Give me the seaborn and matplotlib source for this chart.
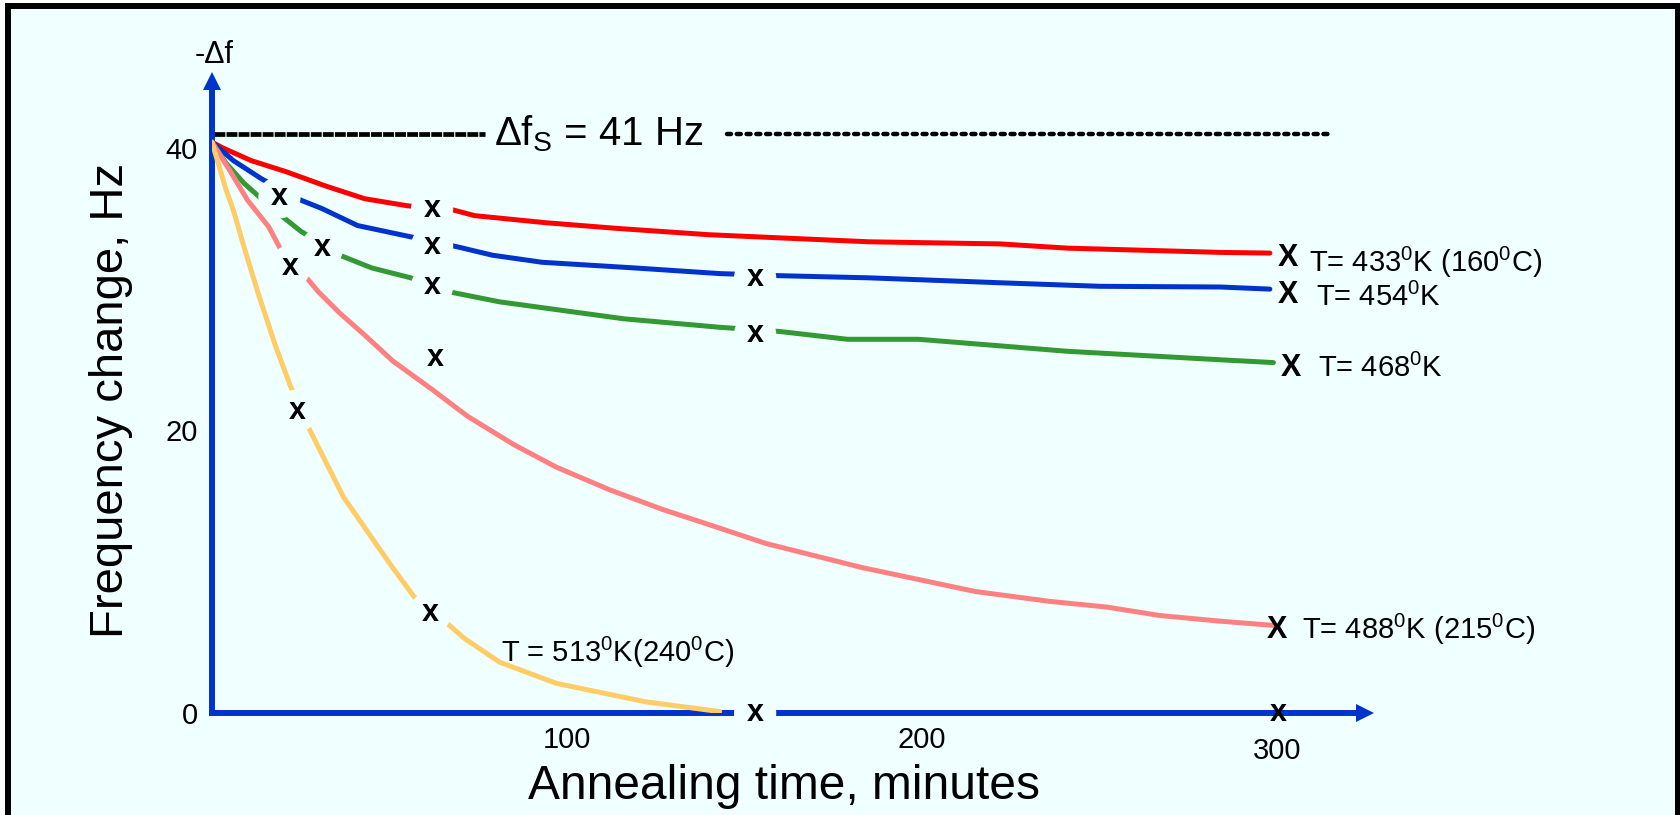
import matplotlib
matplotlib.use("Agg")
import matplotlib.pyplot as plt
import pandas as pd
import seaborn as sns
from matplotlib.patches import Rectangle

# annealing time [min] vs -delta f [Hz]
red_t = [0, 3, 11, 21, 32, 43, 55, 68, 74, 94, 114, 140, 185, 222, 241, 284, 298]
red_v = [40.4, 40.0, 39.1, 38.3, 37.3, 36.4, 35.9, 35.6, 35.2, 34.7, 34.3, 33.85, 33.35, 33.2, 32.9, 32.6, 32.55]

blue_t = [0, 6, 14, 25, 31, 41, 56, 69, 79, 93, 119, 143, 160, 185, 222, 250, 284, 298]
blue_v = [40.4, 39.1, 37.8, 36.3, 35.7, 34.5, 33.7, 33.0, 32.4, 31.9, 31.5, 31.1, 30.95, 30.8, 30.45, 30.2, 30.15, 30.0]

green_t = [0, 4, 9, 17, 25, 36, 45, 56, 67, 81, 116, 143, 160, 179, 199, 241, 284, 299]
green_v = [40.4, 38.9, 37.5, 35.7, 34.1, 32.4, 31.5, 30.8, 29.8, 29.1, 27.9, 27.3, 27.0, 26.45, 26.45, 25.6, 25.0, 24.8]

pink_t = [0, 5, 10, 16, 20, 26, 30, 36, 43, 51, 62, 72, 85, 97, 112, 127, 138, 156, 183, 215, 236, 252, 267, 284, 299]
pink_v = [40.4, 38.4, 36.3, 34.4, 32.5, 31.0, 29.8, 28.3, 26.75, 24.9, 22.9, 21.0, 19.0, 17.4, 15.8, 14.4, 13.5, 12.0, 10.3, 8.6, 7.9, 7.5, 6.9, 6.5, 6.2]

orange_t = [0, 4, 6, 9, 13, 18, 22, 27, 37, 50, 57, 66, 71, 81, 97, 122, 143]
orange_v = [40.4, 37.0, 35.6, 33.0, 29.7, 25.9, 23.2, 20.3, 15.3, 10.6, 8.2, 6.4, 5.3, 3.6, 2.1, 0.8, 0.1]

# measured points ("x") sitting in gaps of the curves
mark_t = [19, 31, 22, 24, 62, 62, 62, 63, 61.5, 153, 153, 153]
mark_v = [36.5, 32.9, 31.6, 21.4, 35.7, 33.05, 30.2, 25.1, 7.1, 30.8, 26.8, 0]
# end points at 300 min ("X"), plus the one on the time axis
end_t = [303, 303, 304, 300]
end_v = [32.2, 29.6, 24.4, 5.9]
axis_mark_t = [300.5]
axis_mark_v = [0]

series = ["433K", "454K", "468K", "488K", "513K"]
labels = [r"T= 433$^{\mathregular{0}}$K (160$^{\mathregular{0}}$C)",
          r"T= 454$^{\mathregular{0}}$K",
          r"T= 468$^{\mathregular{0}}$K",
          r"T= 488$^{\mathregular{0}}$K (215$^{\mathregular{0}}$C)",
          r"T = 513$^{\mathregular{0}}$K(240$^{\mathregular{0}}$C)"]
label_t = [309, 311, 311.5, 307, 81.4]
label_v = [31.9, 29.4, 24.4, 5.9, 4.3]

sat_value = 41
x_ticks = [100, 200, 300]
y_ticks = [0, 20, 40]

BG = "#F0FFFF"
AXIS_BLUE = "#0033CC"
palette = {"433K": "#FF0000", "454K": "#0033CC", "468K": "#339933",
           "488K": "#FF8080", "513K": "#FFCC66"}

sns.set_style("white")
plt.rcParams["font.family"] = ["Liberation Sans", "DejaVu Sans"]
plt.rcParams["mathtext.fontset"] = "custom"
plt.rcParams["mathtext.rm"] = "Liberation Sans"
plt.rcParams["mathtext.it"] = "Liberation Sans:italic"
plt.rcParams["mathtext.bf"] = "Liberation Sans:bold"
for key in ["text.color", "axes.labelcolor", "xtick.color", "ytick.color"]:
    plt.rcParams[key] = "black"

curves = pd.concat([
    pd.DataFrame({"series": s, "t": t, "v": v})
    for s, t, v in zip(series,
                       [red_t, blue_t, green_t, pink_t, orange_t],
                       [red_v, blue_v, green_v, pink_v, orange_v])
], ignore_index=True)

fig = plt.figure(figsize=(16.8, 8.15), dpi=100, facecolor="white")
fig.add_artist(Rectangle((8 / 1680, -0.05), 1670 / 1680, 1.05 - 6 / 815,
                         transform=fig.transFigure, fc=BG, ec="black",
                         lw=4.3, zorder=-1))

ax = fig.add_axes([212 / 1680, 102 / 815, 1153 / 1680, 632 / 815])
ax.set_facecolor("none")

sns.lineplot(data=curves, x="t", y="v", hue="series", palette=palette,
             sort=False, estimator=None, linewidth=3.6, legend=False,
             ax=ax, zorder=3)

ax.set_xlim(0, 324.8)
ax.set_ylim(0, 44.73)

# saturation level
ax.plot([0.5, 77], [sat_value, sat_value], color="black", lw=3.4,
        linestyle=(0, (2.3, 0.25)), zorder=2)
ax.plot([145, 315.5], [sat_value, sat_value], color="black", lw=3.2,
        linestyle=(0, (0.9, 1.3)), dash_capstyle="round", zorder=2)
ax.text(79.4, sat_value, r"Δf$_{\mathregular{S}}$ = 41 Hz", fontsize=29,
        ha="left", va="center")

# data point markers, masking the curves behind them
for t, v in zip(mark_t, mark_v):
    ax.text(t, v, "x", fontsize=22, fontweight="bold", ha="center",
            va="center", zorder=6,
            bbox=dict(boxstyle="circle,pad=0.2", fc=BG, ec="none"))
for t, v in zip(end_t, end_v):
    ax.text(t, v, "X", fontsize=22, fontweight="bold", ha="center",
            va="center", zorder=6)
for t, v in zip(axis_mark_t, axis_mark_v):
    ax.text(t, v, "x", fontsize=22, fontweight="bold", ha="center",
            va="center", zorder=6)

for lab, t, v in zip(labels, label_t, label_v):
    ax.text(t, v, lab, fontsize=21, ha="left", va="center")

# blue arrow axes
sns.despine(ax=ax)
for side in ["left", "bottom"]:
    ax.spines[side].set_color(AXIS_BLUE)
    ax.spines[side].set_linewidth(4.3)
    ax.spines[side].set_zorder(2.5)
ax.plot(1, 0, marker=">", ms=12.5, mew=0, color=AXIS_BLUE,
        transform=ax.get_yaxis_transform(), clip_on=False, zorder=2.5)
ax.plot(0, 1, marker="^", ms=12.5, mew=0, color=AXIS_BLUE,
        transform=ax.get_xaxis_transform(), clip_on=False, zorder=2.5)
ax.text(0.0017, 1.041, "-Δf", fontsize=22, ha="center", va="center",
        transform=ax.transAxes)

ax.set_xticks(x_ticks)
ax.set_yticks(y_ticks)
ax.tick_params(axis="both", length=0, labelsize=21)
ax.tick_params(axis="x", pad=9)
ax.tick_params(axis="y", pad=10)
# the "300" sits a little lower on the slide, below the point on the axis
ax.xaxis.get_major_ticks()[2].set_pad(17)

ax.set_xlabel("Annealing time, minutes", fontsize=34.5, va="center")
ax.xaxis.set_label_coords(0.496, -0.116)
ax.set_ylabel("Frequency change, Hz", fontsize=34, va="center", ha="center")
ax.yaxis.set_label_coords(-0.088, 0.495)

plt.savefig("out.png", dpi=100, facecolor=fig.get_facecolor())
